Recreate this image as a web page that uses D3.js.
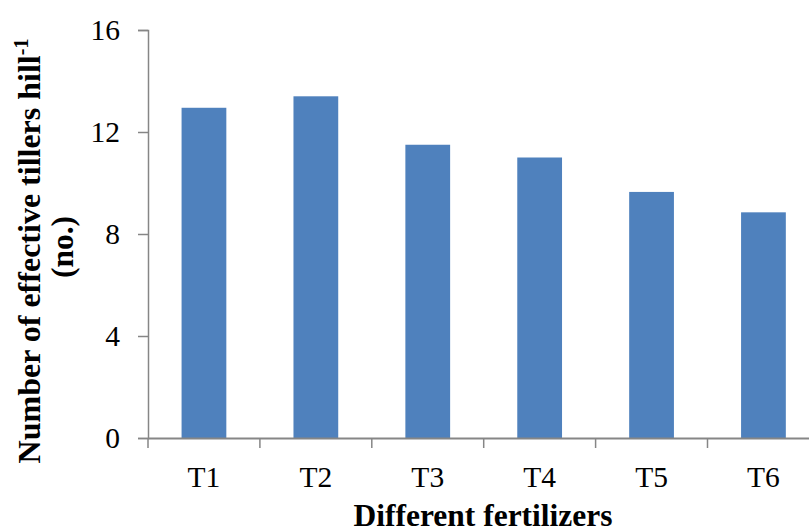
<!DOCTYPE html>
<html>
<head>
<meta charset="utf-8">
<script src="https://cdn.jsdelivr.net/npm/d3@7/dist/d3.min.js"></script>
<style>
  html, body { margin: 0; padding: 0; background: #fff; }
  svg { display: block; }
  text { font-family: "Liberation Serif", "Times New Roman", serif; fill: #000; }
</style>
</head>
<body>
<svg id="chart" width="809" height="532"></svg>
<script>
const categories = ["T1", "T2", "T3", "T4", "T5", "T6"];
const values = [12.95, 13.4, 11.5, 11.0, 9.65, 8.85];
const yTicks = [0, 4, 8, 12, 16];
const xTitle = "Different fertilizers";
const yTitleMain = "Number of effective tillers hill";
const yTitleSup = "-1";
const yTitleLine2 = "(no.)";

const svg = d3.select("#chart");
const plotLeft = 148, plotRight = 819.4, plotTop = 30, plotBottom = 438;
const axisColor = "#868686";
const barColor = "#4F81BD";

const x = d3.scaleBand().domain(categories).range([plotLeft, plotRight])
  .paddingInner(0.6).paddingOuter(0.3);
const y = d3.scaleLinear().domain([0, 16]).range([plotBottom, plotTop]);

// bars
svg.append("g").selectAll("rect").data(values).join("rect")
  .attr("x", (d, i) => x(categories[i]))
  .attr("y", d => y(d))
  .attr("width", x.bandwidth())
  .attr("height", d => y(0) - y(d))
  .attr("fill", barColor);

// y axis
const yAxis = d3.axisLeft(y).tickValues(yTicks).tickSize(10).tickPadding(18).tickFormat(d3.format("d"));
const gy = svg.append("g").attr("transform", `translate(${plotLeft},0)`).call(yAxis);
gy.select(".domain").attr("stroke", axisColor).attr("stroke-width", 1.5);
gy.selectAll(".tick line").attr("stroke", axisColor).attr("stroke-width", 1.5);
gy.selectAll(".tick text").attr("font-size", 29.5).attr("dy", "0.33em")
  .style("font-family", "'Liberation Serif', 'Times New Roman', serif").attr("fill", "#000");

// x axis
const gx = svg.append("g").attr("transform", `translate(0,${plotBottom})`);
gx.append("line").attr("x1", plotLeft).attr("x2", 809).attr("y1", 0.5).attr("y2", 0.5)
  .attr("stroke", axisColor).attr("stroke-width", 1.8);
const bounds = d3.range(categories.length + 1).map(i => x(categories[0]) - x.step() * 0.3 + x.step() * i);
gx.selectAll(".xt").data(bounds).join("line").attr("class", "xt")
  .attr("x1", d => d).attr("x2", d => d).attr("y1", 0).attr("y2", 10)
  .attr("stroke", axisColor).attr("stroke-width", 1.5);
gx.selectAll(".xl").data(categories).join("text").attr("class", "xl")
  .attr("x", d => x(d) + x.bandwidth() / 2).attr("y", 486.7 - plotBottom)
  .attr("text-anchor", "middle").attr("font-size", 29.5).text(d => d);

// x title
svg.append("text").attr("x", 483).attr("y", 525.5).attr("text-anchor", "middle")
  .attr("font-size", 31.5).attr("font-weight", "bold").text(xTitle);

// y title
const yt = svg.append("text").attr("transform", "translate(40,251) rotate(-90)")
  .attr("text-anchor", "middle").attr("font-size", 32).attr("font-weight", "bold");
yt.append("tspan").text(yTitleMain);
yt.append("tspan").attr("font-size", 20).attr("dy", -12).text(yTitleSup);
svg.append("text").attr("transform", "translate(73,247) rotate(-90)")
  .attr("text-anchor", "middle").attr("font-size", 31.5).attr("font-weight", "bold").text(yTitleLine2);
</script>
</body>
</html>
